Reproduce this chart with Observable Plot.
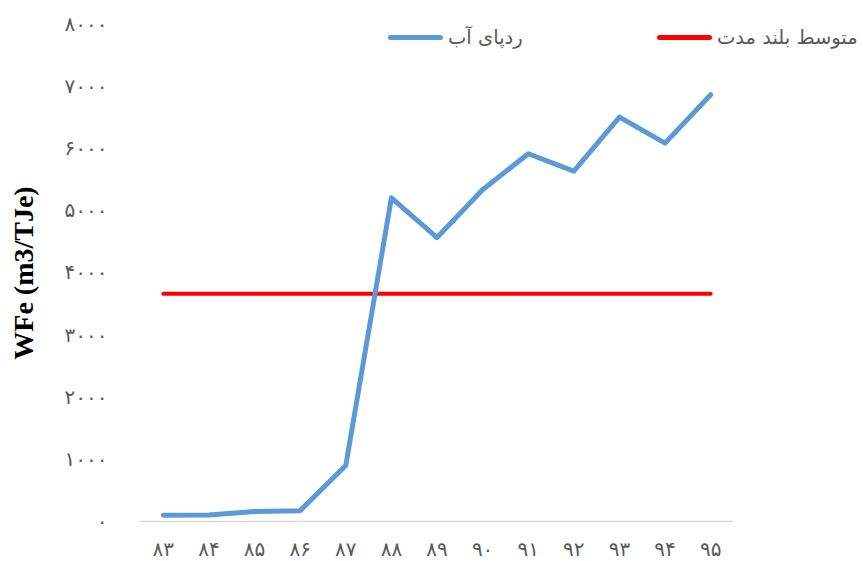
<!DOCTYPE html>
<html>
<head>
<meta charset="utf-8">
<script src="https://cdn.jsdelivr.net/npm/d3@7"></script>
<script src="https://cdn.jsdelivr.net/npm/@observablehq/plot@0.6"></script>
<style>
  body { margin: 0; background: #fff; }
  #wrap { position: relative; width: 863px; height: 561px; }
  g[aria-label="y-axis label"] text { font-weight: bold; font-size: 28px; font-family: "Liberation Serif", "Times New Roman", serif; fill: #000; }
  .legend { position: absolute; top: 26px; display: flex; align-items: center; direction: ltr; font-family: "DejaVu Sans", sans-serif; font-size: 19.5px; color: #595959; }
  .sw { width: 55px; height: 5px; border-radius: 3px; margin-right: 5px; }
</style>
</head>
<body>
<div id="wrap"></div>
<script>
const years = ["83","84","85","86","87","88","89","90","91","92","93","94","95"];
const waterFootprint = [100, 105, 160, 175, 900, 5210, 4570, 5340, 5920, 5640, 6510, 6090, 6870];
const longTermAvg = 3665;
const yTicks = [0,1000,2000,3000,4000,5000,6000,7000,8000];
const seriesNames = ["ردپای آب", "متوسط بلند مدت"];
const seriesColors = ["#5b9bd5", "#ff0000"];

const fa = s => String(s).replace(/\d/g, d => "۰۱۲۳۴۵۶۷۸۹"[d]);

const data = years.map((y, i) => ({year: y, value: waterFootprint[i], avg: longTermAvg}));

const chart = Plot.plot({
  width: 863,
  height: 561,
  marginLeft: 140,
  marginRight: 130,
  marginTop: 24,
  marginBottom: 40,
  style: {fontFamily: "DejaVu Sans, sans-serif", fontSize: "20px", color: "#595959", background: "#fff"},
  x: {type: "band", domain: years, padding: 0, round: false},
  y: {domain: [0, 8000]},
  marks: [
    Plot.axisY({ticks: yTicks, tickSize: 0, tickPadding: 33, tickFormat: fa, label: "WFe (m3/TJe)", labelAnchor: "center", labelArrow: "none", labelOffset: 127, fill: "#595959"}),
    Plot.axisX({tickSize: 0, tickPadding: 20, tickFormat: fa, label: null, fontSize: 20, fill: "#595959"}),
    Plot.ruleY([0], {stroke: "#d9d9d9", strokeWidth: 1.5}),
    Plot.line(data, {x: "year", y: "avg", stroke: seriesColors[1], strokeWidth: 4, strokeLinecap: "round"}),
    Plot.line(data, {x: "year", y: "value", stroke: seriesColors[0], strokeWidth: 5, strokeLinecap: "round", strokeLinejoin: "round"})
  ]
});
const wrap = document.getElementById("wrap");
wrap.appendChild(chart);

const lefts = [388, 657];
seriesNames.forEach((n, i) => {
  const d = document.createElement("div");
  d.className = "legend";
  d.style.left = lefts[i] + "px";
  d.innerHTML = `<div class="sw" style="background:${seriesColors[i]}"></div><span dir="rtl">${n}</span>`;
  wrap.appendChild(d);
});
</script>
</body>
</html>
